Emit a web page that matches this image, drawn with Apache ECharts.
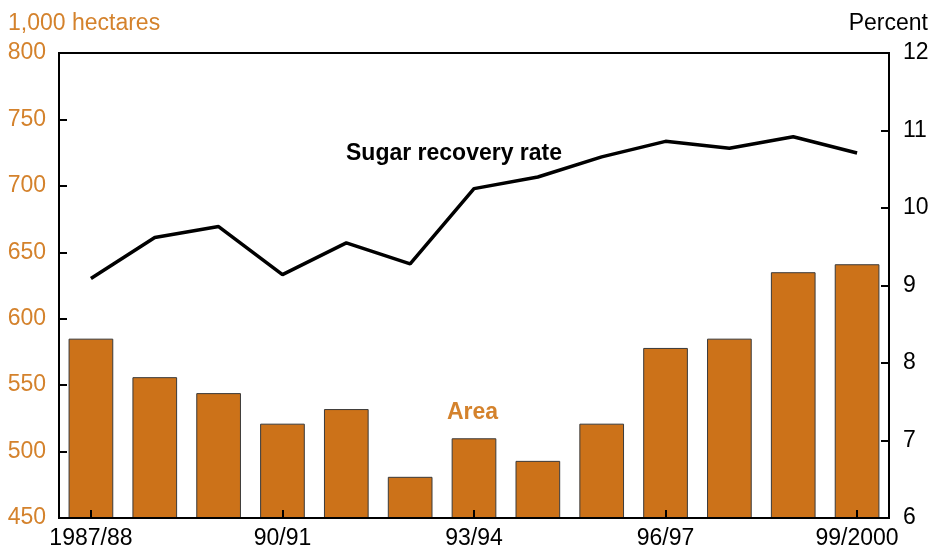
<!DOCTYPE html>
<html><head><meta charset="utf-8">
<script src="https://cdn.jsdelivr.net/npm/echarts@6/dist/echarts.min.js"></script>
<style>html,body{margin:0;padding:0;background:#fff}#c{width:932px;height:550px}</style>
</head><body><div id="c"></div>
<script>
const categories = ['1987/88','88/89','89/90','90/91','91/92','92/93','93/94','94/95','95/96','96/97','97/98','98/99','99/2000'];
const areaValues = [585, 556, 544, 521, 532, 481, 510, 493, 521, 578, 585, 635, 641];
const recoveryRate = [9.09, 9.62, 9.76, 9.14, 9.55, 9.28, 10.25, 10.40, 10.66, 10.86, 10.77, 10.92, 10.71];
const leftTicks = [450, 800, 50];
const rightTicks = [6, 12, 1];

const ORANGE = '#CC7219';
const TXT_OR = '#D4822C';
const FONT = 'Liberation Sans';
const FS = 23;
const chart = echarts.init(document.getElementById('c'), null, {renderer:'canvas'});
chart.setOption({
  animation: false,
  grid: {left: 59, right: 43, top: 53, bottom: 31, show: true, borderColor: '#000', borderWidth: 2, backgroundColor: 'transparent'},
  xAxis: {
    type: 'category', data: categories, z: 10,
    axisLine: {lineStyle: {color: '#000', width: 2}},
    axisTick: {show: true, inside: true, length: 8, alignWithLabel: true, lineStyle: {color: '#000', width: 2}},
    axisLabel: {interval: 2, color: '#000', fontFamily: FONT, fontSize: FS, margin: 9}
  },
  yAxis: [{
    type: 'value', min: leftTicks[0], max: leftTicks[1], interval: leftTicks[2],
    name: '1,000 hectares', nameLocation: 'end', nameGap: 18,
    nameTextStyle: {color: TXT_OR, fontFamily: FONT, fontSize: FS, align: 'left', padding: [0,0,0,-51]},
    axisLine: {show: true, lineStyle: {color: '#000', width: 2}},
    axisTick: {show: true, inside: true, length: 8, lineStyle: {color: '#000', width: 2}},
    axisLabel: {color: TXT_OR, fontFamily: FONT, fontSize: FS, margin: 13},
    splitLine: {show: false}
  }, {
    type: 'value', min: rightTicks[0], max: rightTicks[1], interval: rightTicks[2],
    name: 'Percent', nameLocation: 'end', nameGap: 18,
    nameTextStyle: {color: '#000', fontFamily: FONT, fontSize: FS, align: 'right', padding: [0,-39,0,0]},
    axisLine: {show: true, lineStyle: {color: '#000', width: 2}},
    axisTick: {show: true, inside: true, length: 8, lineStyle: {color: '#000', width: 2}},
    axisLabel: {color: '#000', fontFamily: FONT, fontSize: FS, margin: 14},
    splitLine: {show: false}
  }],
  series: [{
    type: 'bar', name: 'Area', yAxisIndex: 0, data: areaValues, barWidth: '70%',
    itemStyle: {color: ORANGE, borderColor: '#3a3a3a', borderWidth: 1}, z: 1
  }, {
    type: 'line', name: 'Sugar recovery rate', yAxisIndex: 1, data: recoveryRate,
    symbol: 'none', lineStyle: {color: '#000', width: 3.5}, z: 3
  }],
  graphic: [
    {type: 'text', left: 346, top: 142, style: {text: 'Sugar recovery rate', fill: '#000', font: 'bold 23px ' + FONT}},
    {type: 'text', left: 447, top: 401, style: {text: 'Area', fill: TXT_OR, font: 'bold 23px ' + FONT}}
  ]
});
</script></body></html>
